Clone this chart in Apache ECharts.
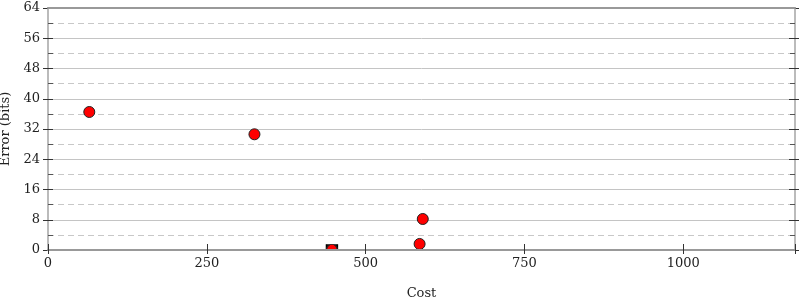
<!DOCTYPE html>
<html><head><meta charset="utf-8">
<script src="https://cdn.jsdelivr.net/npm/echarts@6/dist/echarts.min.js"></script>
<style>html,body{margin:0;padding:0;background:#fff}#c{width:800px;height:300px}</style>
</head><body><div id="c"></div>
<script>
const costs = [65, 325, 590, 585, 447];
const errors = [36.5, 30.6, 8.2, 1.6, 0];
const bestCost = [447];
const bestError = [0];
const yTicks = [0, 8, 16, 24, 32, 40, 48, 56, 64];
const xTicks = [0, 250, 500, 750, 1000];

const FONT = 'DejaVu Serif';
const halfDisk = 'path://M0,10 A10,10 0 0 1 20,10 Z';

function pts(xs, ys, full, half, size) {
  return xs.map((x, i) => {
    const y = ys[i];
    if (y <= 0) {
      return { value: [x, y], symbol: half, symbolSize: [size, size / 2], symbolOffset: [0, -size / 4] };
    }
    return { value: [x, y], symbol: full, symbolSize: size };
  });
}

const xMax = 1176;
const common = { type: 'value', min: 0, max: xMax, interval: 250 };
const yc = { type: 'value', min: yTicks[0], max: yTicks[yTicks.length - 1], interval: 8 };

const chart = echarts.init(document.getElementById('c'), null, { renderer: 'canvas' });
chart.setOption({
  animation: false,
  backgroundColor: '#fff',
  grid: { left: 48, right: 5, top: 8, bottom: 50, containLabel: false, outerBoundsMode: 'none' },
  xAxis: [
    Object.assign({}, common, {
      position: 'bottom', z: 5,
      name: 'Cost', nameLocation: 'middle', nameGap: 37,
      nameTextStyle: { fontFamily: FONT, fontSize: 13, color: '#222' },
      axisLine: { show: true, onZero: false, lineStyle: { color: '#999', width: 2 } },
      axisTick: { show: true, inside: true, length: 6, lineStyle: { color: '#333' } },
      axisLabel: { fontFamily: FONT, fontSize: 13, color: '#222', margin: 7,
        formatter: v => (xTicks.indexOf(v) >= 0 ? String(v) : '') },
      splitLine: { show: false }
    }),
    Object.assign({}, common, {
      position: 'bottom', z: 5,
      axisLine: { show: false, onZero: false },
      axisTick: { show: true, inside: false, length: 4, lineStyle: { color: '#333' } },
      axisLabel: { show: false },
      splitLine: { show: false }
    }),
    Object.assign({}, common, {
      position: 'top', z: 5,
      axisLine: { show: true, onZero: false, lineStyle: { color: '#999', width: 2 } },
      axisTick: { show: false }, axisLabel: { show: false }, splitLine: { show: false }
    })
  ],
  yAxis: [
    Object.assign({}, yc, {
      position: 'left',
      name: 'Error (bits)', nameLocation: 'middle', nameGap: 29, nameRotate: 90,
      nameTextStyle: { fontFamily: FONT, fontSize: 13, color: '#222' },
      axisLine: { show: true, onZero: false, lineStyle: { color: '#bbb', width: 2 } },
      axisTick: { show: true, inside: true, length: 5, lineStyle: { color: '#333' } },
      minorTick: { show: true, splitNumber: 2, length: 5, lineStyle: { color: '#555' } },
      axisLabel: { fontFamily: FONT, fontSize: 13, color: '#222', margin: 8,
        formatter: v => (yTicks.indexOf(v) >= 0 ? String(v) : '') },
      splitLine: { show: true, lineStyle: { color: '#c4c4c4', width: 1 } },
      minorSplitLine: { show: true, lineStyle: { color: '#c8c8c8', width: 1, type: [6, 4] } }
    }),
    Object.assign({}, yc, {
      position: 'left',
      axisLine: { show: false, onZero: false },
      axisTick: { show: true, inside: false, length: 5, lineStyle: { color: '#333' } },
      axisLabel: { show: false }, splitLine: { show: false }
    }),
    Object.assign({}, yc, {
      position: 'right',
      axisLine: { show: true, onZero: false, lineStyle: { color: '#bbb', width: 2 } },
      axisTick: { show: true, inside: true, length: 6, lineStyle: { color: '#333' } },
      minorTick: { show: true, splitNumber: 2, length: 5, lineStyle: { color: '#555' } },
      axisLabel: { show: false }, splitLine: { show: false }
    }),
    Object.assign({}, yc, {
      position: 'right',
      axisLine: { show: false, onZero: false },
      axisTick: { show: true, inside: false, length: 4, lineStyle: { color: '#333' } },
      axisLabel: { show: false }, splitLine: { show: false }
    })
  ],
  series: [
    {
      type: 'scatter', xAxisIndex: 0, yAxisIndex: 0, z: 3,
      data: pts(bestCost, bestError, 'rect', 'rect', 11),
      itemStyle: { color: '#111', borderColor: '#000', borderWidth: 1, opacity: 1 }
    },
    {
      type: 'scatter', xAxisIndex: 0, yAxisIndex: 0, z: 4,
      data: pts(costs, errors, 'circle', halfDisk, 11),
      itemStyle: { color: '#ff0000', borderColor: '#222', borderWidth: 1, opacity: 1 }
    }
  ]
});
</script>
</body></html>
